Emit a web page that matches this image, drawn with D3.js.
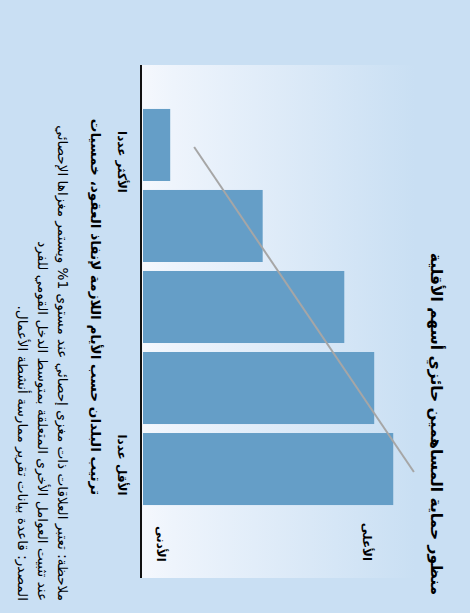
<!DOCTYPE html>
<html><head><meta charset="utf-8">
<script src="https://cdn.jsdelivr.net/npm/d3@7/dist/d3.min.js"></script>
<style>
html,body{margin:0;padding:0;background:#c9dff3;}
svg{display:block;}
text{font-family:"DejaVu Sans",sans-serif;fill:#000;}
</style></head>
<body>
<script>
// ---- data ----
const categories = ["Q1", "Q2", "Q3", "Q4", "Q5"];
const values = [10, 44, 74, 85, 92];
const trendCategories = ["Q1", "Q5"];
const trendValues = [18.8, 99.6];
const categoryLabels = ["الأكثر عددا", "الأقل عددا"];
const valueLabels = ["الأدنى", "الأعلى"];
const title = "منظور حماية المساهمين حائزي أسهم الأقلية";
const axisTitle = "ترتيب البلدان حسب الأيام اللازمة لإنفاذ العقود، خمسيات";
const notes = [
  "ملاحظة: تعتبر العلاقات ذات مغزى إحصائي عند مستوى 1% ويستمر مغزاها الإحصائي",
  "عند تثبيت العوامل الأخرى المتعلقة بمتوسط الدخل القومي للفرد",
  "المصدر: قاعدة بيانات تقرير ممارسة أنشطة الأعمال."
];

// ---- layout (chart drawn in unrotated frame 613x470, then rotated 90deg clockwise) ----
const SW = 470, SH = 613;
const svg = d3.select("body").append("svg").attr("width", SW).attr("height", SH);
svg.append("rect").attr("width", SW).attr("height", SH).attr("fill", "#c9dff3");

const defs = svg.append("defs");
const grad = defs.append("linearGradient").attr("id", "plotGrad")
  .attr("x1", 0).attr("y1", 1).attr("x2", 0).attr("y2", 0);
grad.append("stop").attr("offset", "0%").attr("stop-color", "#f5f8fd");
grad.append("stop").attr("offset", "12%").attr("stop-color", "#eef4fc");
grad.append("stop").attr("offset", "100%").attr("stop-color", "#c9dff3");

const g = svg.append("g").attr("transform", `translate(${SW},0) rotate(90)`);

const plot = {left: 65, right: 578, top: 55, bottom: 329};
g.append("rect")
  .attr("x", plot.left).attr("y", plot.top)
  .attr("width", plot.right - plot.left).attr("height", plot.bottom - plot.top)
  .attr("fill", "url(#plotGrad)");

const x = d3.scaleBand().domain(categories).range([104.5, 509.5]).paddingInner(0.111).paddingOuter(0.055);
const y = d3.scaleLinear().domain([0, 100]).range([327, 55]);

g.selectAll("rect.bar").data(categories).join("rect")
  .attr("class", "bar")
  .attr("x", d => x(d))
  .attr("width", x.bandwidth())
  .attr("y", (d, i) => y(values[i]))
  .attr("height", (d, i) => y(0) - y(values[i]))
  .attr("fill", "#659ec7");

// trend line
const line = d3.line()
  .x((d, i) => x(trendCategories[i]) + x.bandwidth() / 2 + (i === 0 ? 2 : 3))
  .y(d => y(d));
g.append("path").datum(trendValues)
  .attr("d", line)
  .attr("fill", "none").attr("stroke", "#a6a6a6").attr("stroke-width", 2);

// axis line
g.append("line")
  .attr("x1", plot.left).attr("x2", plot.right)
  .attr("y1", plot.bottom).attr("y2", plot.bottom)
  .attr("stroke", "#111").attr("stroke-width", 2);

// category labels
g.append("text").attr("x", 162).attr("y", 352).attr("text-anchor", "middle")
  .attr("font-size", 12).attr("font-weight", "bold").attr("direction", "rtl")
  .text(categoryLabels[0]);
g.append("text").attr("x", 465).attr("y", 352).attr("text-anchor", "middle")
  .attr("font-size", 12).attr("font-weight", "bold").attr("direction", "rtl")
  .text(categoryLabels[1]);

// value extreme labels
g.append("text").attr("x", 544).attr("y", 313).attr("text-anchor", "middle")
  .attr("font-size", 12).attr("font-weight", "bold").text(valueLabels[0]);
g.append("text").attr("x", 542).attr("y", 107).attr("text-anchor", "middle")
  .attr("font-size", 12).attr("font-weight", "bold").text(valueLabels[1]);

// title
g.append("text").attr("x", 424).attr("y", 39).attr("text-anchor", "middle")
  .attr("font-size", 15.5).attr("font-weight", "bold").attr("direction", "rtl")
  .text(title);

// axis title
g.append("text").attr("x", 307).attr("y", 379).attr("text-anchor", "middle")
  .attr("font-size", 13.6).attr("font-weight", "bold").attr("direction", "rtl")
  .text(axisTitle);

// notes
const noteY = [412, 432, 452];
notes.forEach((t, i) => {
  g.append("text").attr("x", 601).attr("y", noteY[i]).attr("text-anchor", "start")
    .attr("direction", "rtl").attr("font-size", 13.6).text(t);
});
</script>
</body></html>
